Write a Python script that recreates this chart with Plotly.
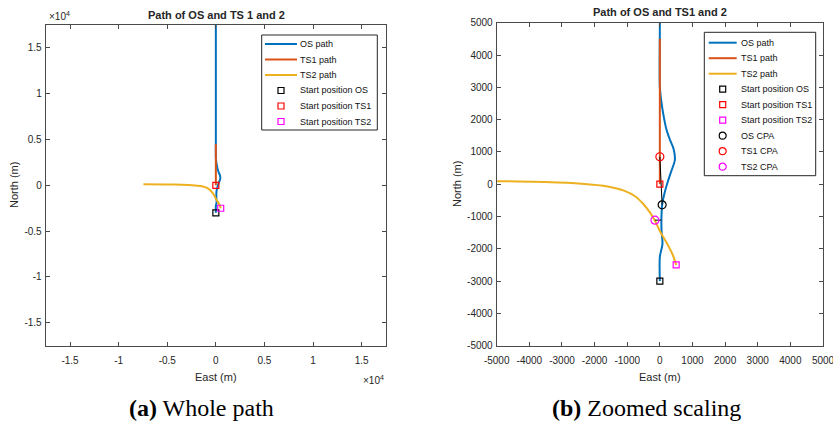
import plotly.graph_objects as go

W, H = 833, 425

# ---- data (metres, East / North) ----
OS_EAST = [0, 0, 80, 50, 50, 70, 150, 250, 360, 460, 420, 300, 200, 100, 40, 0, 0, 0]
OS_NORTH = [-3000, -2250, -1850, -1400, -1000, -640, -250, 100, 430, 750, 1100, 1400, 1700, 2200, 2600, 3000, 5000, 18000]

TS1_EAST = [0, 0]
TS1_NORTH = [0, 4500]

TS2_EAST = [500, 400, 200, 0, -150, -300, -500, -750, -1100, -1600, -2400, -3500, -5000, -7450]
TS2_NORTH = [-2500, -2200, -1800, -1450, -1130, -880, -620, -380, -200, -70, 15, 65, 95, 130]

START_EAST = [0, 0, 500]          # OS, TS1, TS2
START_NORTH = [-3000, 0, -2500]

CPA_EAST = [70, 0, -150]          # OS, TS1, TS2
CPA_NORTH = [-640, 850, -1115]
# OS position paired with each target CPA
CPA_LINK_OS_EAST = [70, 50]
CPA_LINK_OS_NORTH = [-640, -1110]

TICKS_A = [-15000, -10000, -5000, 0, 5000, 10000, 15000]
TICKTEXT_A = ["-1.5", "-1", "-0.5", "0", "0.5", "1", "1.5"]
TICKS_B = [-5000, -4000, -3000, -2000, -1000, 0, 1000, 2000, 3000, 4000, 5000]
TICKTEXT_B = [str(v) for v in TICKS_B]

LABELS_A = ["OS path", "TS1 path", "TS2 path",
            "Start position OS", "Start position TS1", "Start position TS2"]
LABELS_B = LABELS_A + ["OS CPA", "TS1 CPA", "TS2 CPA"]

# ---- styles ----
BLUE, ORANGE, YELLOW = "#0072BD", "#D95319", "#EDB120"
MARK_COLORS = ["#000000", "#FF0000", "#FF00FF"]
AX = "#4a4a4a"
TXT = "#262626"
SANS = "Liberation Sans, Arial, sans-serif"
SERIF = "Liberation Serif, Times New Roman, serif"


def px(x):
    return x / W


def py(y):
    return 1 - y / H


fig = go.Figure()


def add_paths(xa, ya, with_cpa):
    kw = dict(xaxis=xa, yaxis=ya, showlegend=False, hoverinfo="skip")
    fig.add_trace(go.Scatter(x=OS_EAST, y=OS_NORTH, mode="lines",
                             line=dict(color=BLUE, width=2, shape="spline", smoothing=0.8), **kw))
    fig.add_trace(go.Scatter(x=TS1_EAST, y=TS1_NORTH, mode="lines",
                             line=dict(color=ORANGE, width=2), **kw))
    fig.add_trace(go.Scatter(x=TS2_EAST, y=TS2_NORTH, mode="lines",
                             line=dict(color=YELLOW, width=2, shape="spline", smoothing=0.8), **kw))
    if with_cpa:
        for i in (1, 2):
            fig.add_trace(go.Scatter(x=[CPA_EAST[i], CPA_LINK_OS_EAST[i - 1]],
                                     y=[CPA_NORTH[i], CPA_LINK_OS_NORTH[i - 1]],
                                     mode="lines", line=dict(color="black", width=1), **kw))
    fig.add_trace(go.Scatter(x=START_EAST, y=START_NORTH, mode="markers",
                             marker=dict(symbol="square-open", size=6, color=MARK_COLORS,
                                         line=dict(width=1.2)), **kw))
    if with_cpa:
        fig.add_trace(go.Scatter(x=CPA_EAST, y=CPA_NORTH, mode="markers",
                                 marker=dict(symbol="circle-open", size=8, color=MARK_COLORS,
                                             line=dict(width=1.2)), **kw))


add_paths("x", "y", False)
add_paths("x2", "y2", True)

axis_common = dict(showgrid=False, zeroline=False, showline=True, linecolor=AX, linewidth=1,
                   mirror="ticks", ticks="inside", ticklen=4, tickwidth=1, tickcolor=AX,
                   automargin=False, ticklabeloverflow="allow",
                   tickfont=dict(family=SANS, size=10, color=TXT))
x_common = dict(ticklabelstandoff=5, **axis_common)
y_common = dict(ticklabelstandoff=1, **axis_common)

fig.update_layout(
    template="none",
    width=W, height=H, margin=dict(l=0, r=0, t=0, b=0, autoexpand=False),
    paper_bgcolor="white", plot_bgcolor="white",
    xaxis=dict(domain=[px(45.7), px(386)], range=[-17500, 17500], anchor="y",
               tickvals=TICKS_A, ticktext=TICKTEXT_A, **x_common),
    yaxis=dict(domain=[py(345.7), py(25)], range=[-17500, 17500], anchor="x",
               tickvals=TICKS_A, ticktext=TICKTEXT_A, **y_common),
    xaxis2=dict(domain=[px(496.7), px(823)], range=[-5000, 5000], anchor="y2",
                tickvals=TICKS_B, ticktext=TICKTEXT_B, **x_common),
    yaxis2=dict(domain=[py(345.7), py(22.7)], range=[-5000, 5000], anchor="x2",
                tickvals=TICKS_B, ticktext=TICKTEXT_B, **y_common),
)

ann = []
shapes = []


def text(x, y, s, size, family=SANS, color=TXT, xanchor="center", angle=0):
    ann.append(dict(x=px(x), y=py(y), xref="paper", yref="paper", text=s, showarrow=False,
                    xanchor=xanchor, yanchor="middle", textangle=angle,
                    font=dict(family=family, size=size, color=color)))


# titles, axis labels, exponent labels, captions
text(216, 15, "<b>Path of OS and TS 1 and 2</b>", 11)
text(660, 12, "<b>Path of OS and TS1 and 2</b>", 11)
text(216, 377, "East (m)", 11)
text(660, 377, "East (m)", 11)
text(14, 185, "North (m)", 11, angle=-90)
text(457, 184, "North (m)", 11, angle=-90)
text(47, 16, "×10<sup>4</sup>", 10, xanchor="left")
text(386, 380, "×10<sup>4</sup>", 10, xanchor="right")
text(201, 408, "<b>(a)</b> Whole path", 24, family=SERIF, color="black")
text(646, 408, "<b>(b)</b> Zoomed scaling", 24, family=SERIF, color="black")


def legend(box, line_x0, line_x1, text_x, row0, step, labels):
    x0, y0, x1, y1 = box
    shapes.append(dict(type="rect", xref="paper", yref="paper", x0=px(x0), x1=px(x1),
                       y0=py(y1), y1=py(y0), line=dict(color="#262626", width=1),
                       fillcolor="white", layer="above"))
    mx = (line_x0 + line_x1) / 2
    line_cols = [BLUE, ORANGE, YELLOW]
    for i, lab in enumerate(labels):
        yy = row0 + i * step
        if i < 3:
            shapes.append(dict(type="line", xref="paper", yref="paper", x0=px(line_x0), x1=px(line_x1),
                               y0=py(yy), y1=py(yy), line=dict(color=line_cols[i], width=2),
                               layer="above"))
        elif i < 6:
            c = MARK_COLORS[i - 3]
            shapes.append(dict(type="rect", xref="paper", yref="paper", x0=px(mx - 3), x1=px(mx + 3),
                               y0=py(yy + 3), y1=py(yy - 3), line=dict(color=c, width=1.2),
                               layer="above"))
        else:
            c = MARK_COLORS[i - 6]
            shapes.append(dict(type="circle", xref="paper", yref="paper", x0=px(mx - 3.5), x1=px(mx + 3.5),
                               y0=py(yy + 3.5), y1=py(yy - 3.5), line=dict(color=c, width=1.2),
                               layer="above"))
        text(text_x, yy, lab, 9, color="#111111", xanchor="left")


legend((261.7, 35, 377.3, 130), 265, 297, 298, 44, 15.5, LABELS_A)
legend((704.3, 32.3, 815.7, 175.7), 708.7, 736.7, 739, 42.7, 15.5, LABELS_B)

fig.update_layout(annotations=ann, shapes=shapes)
fig.write_html("out.html")
